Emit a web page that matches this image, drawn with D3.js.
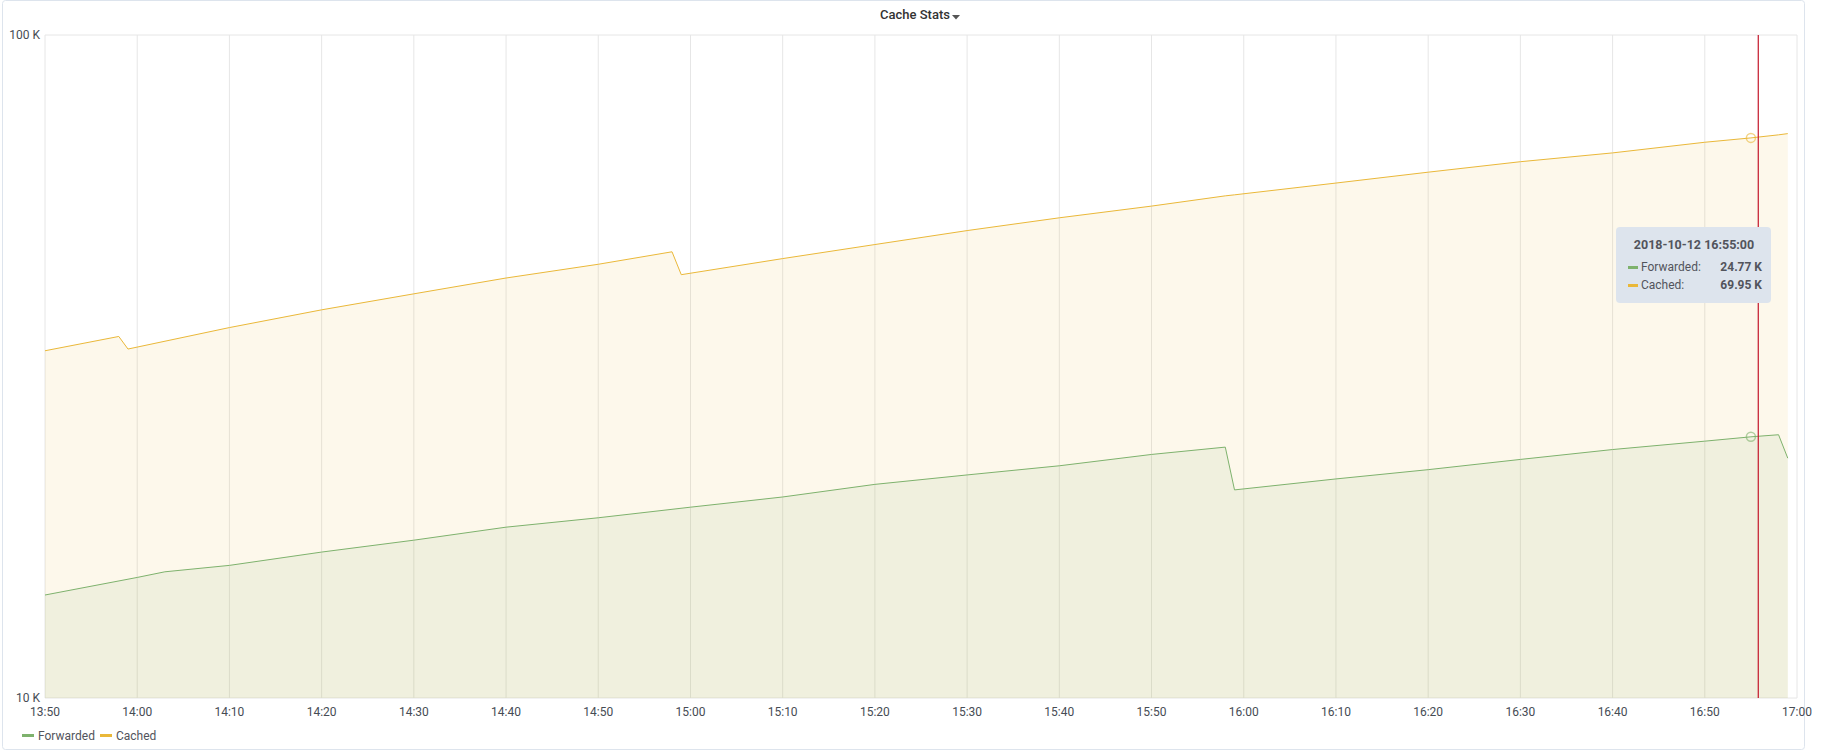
<!DOCTYPE html>
<html><head><meta charset="utf-8">
<script src="https://cdn.jsdelivr.net/npm/d3@7"></script>
<style>body{margin:0;background:#fff;font-family:Roboto,"Noto Sans",sans-serif;}</style>
</head><body><svg id="c" width="1825" height="753"></svg>
<script>
const times = ["13:50","13:58","13:59","14:10","14:20","14:30","14:40","14:50","14:58","14:59","15:10","15:20","15:30","15:40","15:50","15:58","15:59","16:10","16:20","16:30","16:40","16:50","16:55","16:58","16:59"];
const cached = [33.4,35.1,33.6,36.2,38.5,40.7,43.0,45.1,47.1,43.5,46.0,48.3,50.7,53.0,55.2,57.2,57.4,59.8,62.1,64.4,66.4,68.9,69.95,70.7,71.0];
const fwdTimes = ["13:50","14:00","14:03","14:10","14:20","14:30","14:40","14:50","15:00","15:10","15:20","15:30","15:40","15:50","15:58","15:59","16:10","16:20","16:30","16:40","16:50","16:55","16:58","16:59"];
const forwarded = [14.3,15.2,15.5,15.85,16.6,17.3,18.1,18.7,19.4,20.1,21.0,21.7,22.4,23.3,23.9,20.6,21.4,22.1,22.9,23.7,24.4,24.77,24.95,23.0];
const xTicks = ["13:50","14:00","14:10","14:20","14:30","14:40","14:50","15:00","15:10","15:20","15:30","15:40","15:50","16:00","16:10","16:20","16:30","16:40","16:50","17:00"];
const yTicks = [10,100];
const hoverTime = "16:55";

const toMin = s => { const [h,m]=s.split(":").map(Number); return h*60+m; };
const svg = d3.select("#c");
const L=45, R=1797, T=35, B=698;
const x = d3.scaleLinear().domain([toMin("13:50"), toMin("17:00")]).range([L,R]);
const y = d3.scaleLog().domain([10,100]).range([B,T]);

// panel border
svg.append("rect").attr("x",2.5).attr("y",0.5).attr("width",1802).attr("height",749).attr("fill","none").attr("stroke","#dde4ed").attr("rx",3);

// title
svg.append("text").attr("x",915).attr("y",19).attr("text-anchor","middle").attr("font-size",13).attr("font-weight",500).attr("fill","#333").text("Cache Stats");
svg.append("path").attr("d","M952,15 l8,0 l-4,4.5 z").attr("fill","#555");

// grid
svg.append("g").selectAll("line").data(xTicks).join("line")
 .attr("x1",d=>x(toMin(d))).attr("x2",d=>x(toMin(d))).attr("y1",T).attr("y2",B).attr("stroke","#e6e6e6");
svg.append("g").selectAll("line").data(yTicks).join("line")
 .attr("x1",L).attr("x2",R).attr("y1",d=>y(d)).attr("y2",d=>y(d)).attr("stroke","#e6e6e6");

// areas
const cData = times.map((t,i)=>({t:toMin(t),v:cached[i]}));
const fData = fwdTimes.map((t,i)=>({t:toMin(t),v:forwarded[i]}));
const area = d3.area().x(d=>x(d.t)).y0(B).y1(d=>y(d.v));
const line = d3.line().x(d=>x(d.t)).y(d=>y(d.v));
svg.append("path").datum(cData).attr("d",area).attr("fill","#EAB839").attr("fill-opacity",0.1);
svg.append("path").datum(fData).attr("d",area).attr("fill","#7EB26D").attr("fill-opacity",0.1);
svg.append("path").datum(cData).attr("d",line).attr("fill","none").attr("stroke","#EAB839").attr("stroke-width",1);
svg.append("path").datum(fData).attr("d",line).attr("fill","none").attr("stroke","#7EB26D").attr("stroke-width",1);

// axis labels
svg.append("g").selectAll("text").data(xTicks).join("text")
 .attr("x",d=>x(toMin(d))).attr("y",716).attr("text-anchor","middle").attr("font-size",12).attr("fill","#464c54").text(d=>d);
svg.append("g").selectAll("text").data(yTicks).join("text")
 .attr("x",40).attr("y",d=>y(d)+4).attr("text-anchor","end").attr("font-size",12).attr("fill","#464c54").text(d=>d+" K");

// hover
const ht = toMin(hoverTime);
svg.append("line").attr("x1",x(ht+0.8)).attr("x2",x(ht+0.8)).attr("y1",T).attr("y2",B).attr("stroke","#c4162a").attr("stroke-width",1.2);
svg.append("circle").attr("cx",x(ht)).attr("cy",y(cached[times.indexOf(hoverTime)])).attr("r",4.5).attr("fill","none").attr("stroke","#EAB839").attr("stroke-width",1.5).attr("stroke-opacity",0.6);
svg.append("circle").attr("cx",x(ht)).attr("cy",y(forwarded[fwdTimes.indexOf(hoverTime)])).attr("r",4.5).attr("fill","none").attr("stroke","#7EB26D").attr("stroke-width",1.5).attr("stroke-opacity",0.6);

// tooltip
const tg = svg.append("g").attr("transform","translate(1616,227)");
tg.append("rect").attr("width",155).attr("height",76).attr("rx",4).attr("fill","#dde4ed");
tg.append("text").attr("x",78).attr("y",22).attr("text-anchor","middle").attr("font-size",12.5).attr("font-weight",700).attr("fill","#52545c").text("2018-10-12 16:55:00");
const rows=[["Forwarded:",forwarded[fwdTimes.indexOf(hoverTime)],"#7EB26D"],["Cached:",cached[times.indexOf(hoverTime)],"#EAB839"]];
rows.forEach((r,i)=>{
  const yy=44+i*18;
  tg.append("rect").attr("x",12).attr("y",yy-5).attr("width",10).attr("height",3).attr("fill",r[2]);
  tg.append("text").attr("x",25).attr("y",yy).attr("font-size",12).attr("fill","#52545c").text(r[0]);
  tg.append("text").attr("x",146).attr("y",yy).attr("text-anchor","end").attr("font-size",12).attr("font-weight",700).attr("fill","#52545c").text(r[1].toFixed(2)+" K");
});

// legend
[["Forwarded","#7EB26D",22],["Cached","#EAB839",100]].forEach(l=>{
  svg.append("rect").attr("x",l[2]).attr("y",734).attr("width",12).attr("height",3).attr("fill",l[1]);
  svg.append("text").attr("x",l[2]+16).attr("y",740).attr("font-size",12).attr("fill","#52545c").text(l[0]);
});
</script></body></html>
